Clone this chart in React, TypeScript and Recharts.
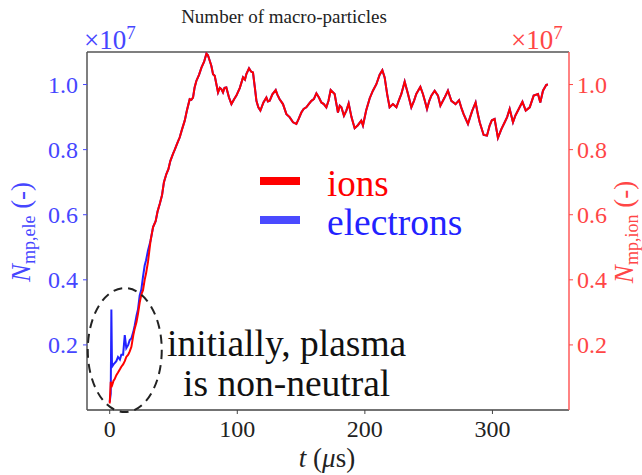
import React from 'react';
import { LineChart, Line, XAxis, YAxis, ReferenceLine, ReferenceDot } from 'recharts';

const earlyTime = [0, 0.8, 1.3, 1.8, 3.0, 3.9, 5.2, 6.5, 8.0, 9.1, 10.5, 11.8, 13, 14.5, 15.7, 17, 18.5, 19.6, 21, 22.2, 23.5, 24.8, 26.1, 27.4, 28.5, 30];
const earlyElectrons = [0.025, 0.05, 0.309, 0.133, 0.14, 0.144, 0.15, 0.163, 0.155, 0.17, 0.17, 0.23, 0.19, 0.2, 0.215, 0.22, 0.24, 0.26, 0.29, 0.31, 0.352, 0.37, 0.41, 0.444, 0.46, 0.49];
const earlyIons = [0.02, 0.087, 0.07, 0.075, 0.09, 0.095, 0.107, 0.115, 0.125, 0.133, 0.14, 0.15, 0.163, 0.17, 0.18, 0.194, 0.23, 0.25, 0.27, 0.296, 0.33, 0.355, 0.368, 0.4, 0.42, 0.455];

const laterTime = [32, 34, 36, 37.5, 39.2, 41, 42.5, 44.4, 46, 47.5, 49.6, 51, 53, 54.9, 56.5, 58.8, 60.5, 62.7, 64, 65.3, 66.5, 67.9, 70, 71.9, 74, 75.8, 77, 78.4, 79.7, 81, 82.3, 84.9, 86.3, 87.5, 88.8, 90, 91.4, 93.5, 95.4, 97.5, 99.3, 102, 104.5, 106, 107.1, 109.2, 110.8, 112.3, 113.8, 115, 116.5, 118.1, 120.5, 122.8, 124, 125.4, 127.5, 130.1, 131.5, 133.2, 135.8, 138.5, 141, 143.7, 146.3, 148.2, 150.2, 152, 154.1, 156, 158.1, 160, 162, 164, 165.9, 167.8, 169.8, 171.5, 173.2, 176.3, 178.9, 180.3, 181.6, 183.6, 185.5, 187.3, 189.5, 192, 194.5, 197.2, 198.5, 201, 203.8, 206.3, 209, 211.6, 213.7, 215.5, 217.5, 219.4, 222, 224.7, 226.5, 228.6, 231.2, 233.8, 236.4, 238.5, 240.3, 243.5, 245.5, 247, 248.7, 250.5, 252.1, 254.7, 257.3, 259.2, 262.5, 265.1, 267.8, 271.1, 273.8, 275.5, 277.4, 280.8, 282.5, 284.2, 286.8, 288.5, 290, 293.1, 295.7, 297.8, 299.5, 301.7, 304.3, 307, 309.6, 311.5, 313.5, 316.1, 318, 320, 323.5, 326.1, 329.2, 332.3, 335.7, 337.5, 339.6, 342.2, 343.5];
const laterCount = [0.52, 0.562, 0.58, 0.61, 0.633, 0.66, 0.7, 0.725, 0.74, 0.765, 0.787, 0.8, 0.82, 0.838, 0.86, 0.889, 0.92, 0.955, 0.953, 0.96, 0.99, 1.011, 1.03, 1.052, 1.07, 1.095, 1.09, 1.073, 1.057, 1.032, 1.027, 0.976, 0.99, 0.986, 0.976, 0.99, 0.991, 0.96, 0.94, 0.955, 0.966, 0.99, 1.022, 1.015, 1.032, 1.05, 1.04, 1.037, 0.99, 0.95, 0.93, 0.92, 0.945, 0.96, 0.948, 0.95, 0.97, 0.983, 0.968, 0.955, 0.94, 0.909, 0.9, 0.884, 0.879, 0.895, 0.914, 0.925, 0.93, 0.94, 0.95, 0.955, 0.973, 0.96, 0.945, 0.94, 0.93, 0.95, 0.983, 0.971, 0.914, 0.935, 0.93, 0.904, 0.92, 0.942, 0.9, 0.866, 0.875, 0.889, 0.874, 0.92, 0.958, 0.981, 1.001, 1.03, 1.044, 1.022, 0.97, 0.93, 0.94, 0.93, 0.95, 0.971, 1.009, 0.971, 0.93, 0.95, 0.971, 0.993, 0.971, 0.95, 0.925, 0.95, 0.966, 0.981, 0.966, 0.935, 0.96, 0.981, 0.95, 0.94, 0.952, 0.93, 0.909, 0.879, 0.9, 0.92, 0.945, 0.91, 0.884, 0.845, 0.843, 0.874, 0.89, 0.894, 0.836, 0.863, 0.884, 0.9, 0.925, 0.884, 0.905, 0.92, 0.947, 0.92, 0.93, 0.966, 0.971, 0.945, 0.981, 0.999, 1.0];

const xTicks = [0, 100, 200, 300];
const yTicks = [0.2, 0.4, 0.6, 0.8, 1.0];
const xDomain = [-17.8, 360];
const yDomain = [0, 1.1];

const data = [
  ...earlyTime.map((t, i) => ({ t, ele: earlyElectrons[i], ion: earlyIons[i] })),
  ...laterTime.map((t, i) => ({ t, ele: laterCount[i], ion: laterCount[i] })),
];

const SERIF = '"Liberation Serif", "Times New Roman", Times, "DejaVu Serif", serif';
const BLUE_TXT = '#4646ff';
const RED_TXT = '#ff4646';

const abs = (style: React.CSSProperties): React.CSSProperties => ({
  position: 'absolute',
  fontFamily: SERIF,
  whiteSpace: 'nowrap',
  lineHeight: 1,
  ...style,
});

const EllipseShape = (props: any) => (
  <ellipse
    cx={props.cx}
    cy={props.cy}
    rx={37}
    ry={62}
    fill="none"
    stroke="#222"
    strokeWidth={2}
    strokeDasharray="9 6"
  />
);

const supStyle: React.CSSProperties = { fontSize: 19, verticalAlign: 'top', position: 'relative', top: -4 };

export default function App() {
  return (
    <div style={{ position: 'absolute', left: 0, top: 0, width: 642, height: 475, background: '#fff', overflow: 'hidden' }}>
      <LineChart width={642} height={475} data={data} margin={{ top: 52, right: 0, bottom: 0, left: 0 }}>
        <XAxis
          dataKey="t"
          type="number"
          domain={xDomain}
          ticks={xTicks}
          allowDataOverflow
          height={65}
          tickSize={4}
          tickMargin={6}
          axisLine={{ stroke: '#444', strokeWidth: 1.5 }}
          tickLine={{ stroke: '#444' }}
          tick={{ fill: '#222', fontFamily: SERIF, fontSize: 24 }}
        />
        <YAxis
          yAxisId="left"
          orientation="left"
          domain={yDomain}
          ticks={yTicks}
          allowDataOverflow
          width={87}
          tickSize={4}
          tickMargin={5}
          tickFormatter={(v: number) => v.toFixed(1)}
          axisLine={{ stroke: '#555', strokeWidth: 1.5 }}
          tickLine={{ stroke: BLUE_TXT }}
          tick={{ fill: BLUE_TXT, fontFamily: SERIF, fontSize: 24 }}
        />
        <YAxis
          yAxisId="right"
          orientation="right"
          domain={yDomain}
          ticks={yTicks}
          allowDataOverflow
          width={73}
          tickSize={4}
          tickMargin={4}
          tickFormatter={(v: number) => v.toFixed(1)}
          axisLine={{ stroke: '#ff5a5a', strokeWidth: 1.5 }}
          tickLine={{ stroke: RED_TXT }}
          tick={{ fill: RED_TXT, fontFamily: SERIF, fontSize: 24 }}
        />
        <ReferenceLine yAxisId="left" y={1.1} stroke="#555" strokeWidth={1.5} ifOverflow="visible" />
        <Line yAxisId="left" dataKey="ele" stroke="#2222ff" strokeWidth={2} dot={false} isAnimationActive={false} />
        <Line yAxisId="right" dataKey="ion" stroke="#ff0000" strokeWidth={2} dot={false} isAnimationActive={false} />
        <ReferenceDot yAxisId="left" x={11.8} y={0.184} r={1} ifOverflow="visible" shape={EllipseShape} />
      </LineChart>

      <div style={abs({ left: 284, top: 7, fontSize: 19, color: '#222', transform: 'translateX(-50%)' })}>
        Number of macro-particles
      </div>
      <div style={abs({ left: 84, top: 27, fontSize: 27, color: BLUE_TXT })}>
        ×10<sup style={supStyle}>7</sup>
      </div>
      <div style={abs({ left: 511, top: 27, fontSize: 27, color: RED_TXT })}>
        ×10<sup style={supStyle}>7</sup>
      </div>

      <div style={abs({ left: 327, top: 445, fontSize: 27, color: '#222', transform: 'translateX(-50%)' })}>
        <i>t</i> (<i>μ</i>s)
      </div>

      <div
        style={abs({
          left: 21,
          top: 232,
          fontSize: 27,
          color: BLUE_TXT,
          transform: 'translate(-50%, -50%) rotate(-90deg)',
        })}
      >
        <i>N</i>
        <span style={{ fontSize: 18, position: 'relative', top: 5 }}>mp,ele</span> (-)
      </div>
      <div
        style={abs({
          left: 624,
          top: 232,
          fontSize: 27,
          color: RED_TXT,
          transform: 'translate(-50%, -50%) rotate(-90deg)',
        })}
      >
        <i>N</i>
        <span style={{ fontSize: 18, position: 'relative', top: 5 }}>mp,ion</span> (-)
      </div>

      <div style={{ position: 'absolute', left: 260, top: 177, width: 40, height: 8, background: '#ff0000' }} />
      <div style={{ position: 'absolute', left: 260, top: 216, width: 40, height: 8, background: '#4a4aff' }} />
      <div style={abs({ left: 327, top: 165, fontSize: 37, color: '#ff0000' })}>ions</div>
      <div style={abs({ left: 327, top: 204, fontSize: 37.5, color: '#2222ff' })}>electrons</div>

      <div style={abs({ left: 167, top: 325, fontSize: 37.5, color: '#111' })}>initially, plasma</div>
      <div style={abs({ left: 183, top: 365, fontSize: 37.5, color: '#111' })}>is non-neutral</div>
    </div>
  );
}
